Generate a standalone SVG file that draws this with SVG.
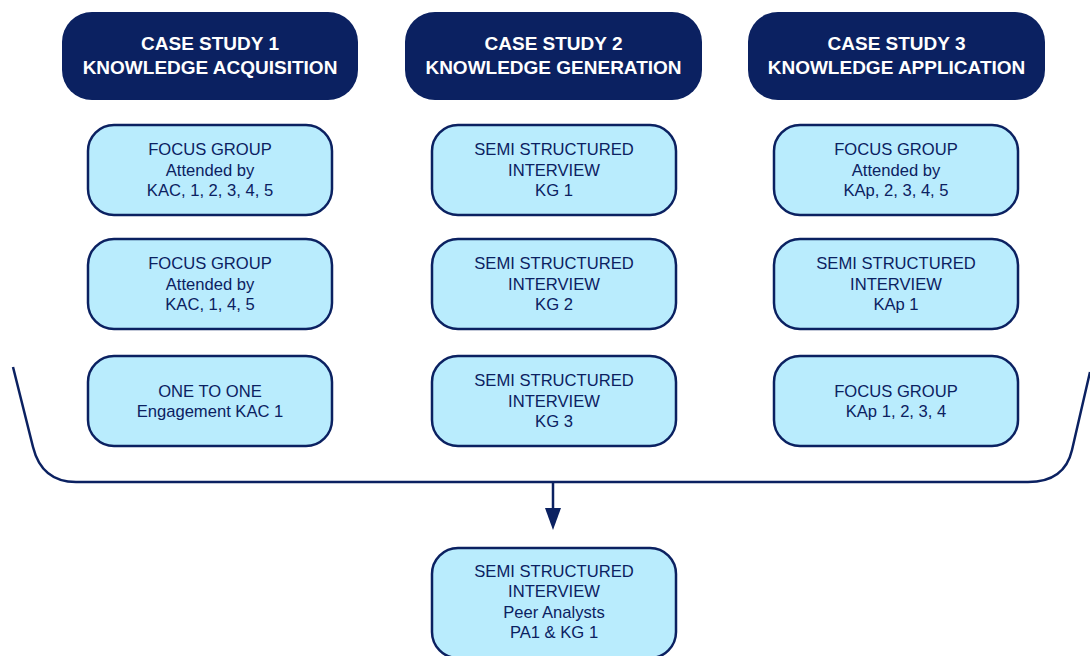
<svg xmlns="http://www.w3.org/2000/svg" width="1090" height="656" viewBox="0 0 1090 656">
  <style>
    .head rect { fill: #0b2161; }
    .head text { fill: #ffffff; font-family: "Liberation Sans", Arial, sans-serif; font-weight: bold; font-size: 19px; text-anchor: middle; }
    .step rect { fill: #b9ecfd; stroke: #0b2161; stroke-width: 2.5; }
    .step text { fill: #0b2161; font-family: "Liberation Sans", Arial, sans-serif; font-size: 16.6px; text-anchor: middle; }
    .wire { fill: none; stroke: #0b2161; stroke-width: 2.5; }
  </style>
  <rect width="1090" height="656" fill="#ffffff"/>

  <!-- column headers -->
  <g id="cs1" class="head">
    <rect x="62" y="12" width="296" height="88" rx="30"/>
    <text x="210" y="49.5">CASE STUDY 1</text>
    <text x="210" y="73.5">KNOWLEDGE ACQUISITION</text>
  </g>
  <g id="cs2" class="head">
    <rect x="405" y="12" width="297" height="88" rx="30"/>
    <text x="553.5" y="49.5">CASE STUDY 2</text>
    <text x="553.5" y="73.5">KNOWLEDGE GENERATION</text>
  </g>
  <g id="cs3" class="head">
    <rect x="748" y="12" width="297" height="88" rx="30"/>
    <text x="896.5" y="49.5">CASE STUDY 3</text>
    <text x="896.5" y="73.5">KNOWLEDGE APPLICATION</text>
  </g>

  <!-- case study 1 activities -->
  <g id="cs1-fg1" class="step">
    <rect x="88" y="125" width="244" height="90" rx="26"/>
    <text x="210" y="155.4">FOCUS GROUP</text>
    <text x="210" y="175.8">Attended by</text>
    <text x="210" y="196.2">KAC, 1, 2, 3, 4, 5</text>
  </g>
  <g id="cs1-fg2" class="step">
    <rect x="88" y="239" width="244" height="90" rx="26"/>
    <text x="210" y="269.4">FOCUS GROUP</text>
    <text x="210" y="289.8">Attended by</text>
    <text x="210" y="310.2">KAC, 1, 4, 5</text>
  </g>
  <g id="cs1-oto" class="step">
    <rect x="88" y="356" width="244" height="90" rx="26"/>
    <text x="210" y="396.6">ONE TO ONE</text>
    <text x="210" y="417">Engagement KAC 1</text>
  </g>

  <!-- case study 2 activities -->
  <g id="cs2-kg1" class="step">
    <rect x="432" y="125" width="244" height="90" rx="26"/>
    <text x="554" y="155.4">SEMI STRUCTURED</text>
    <text x="554" y="175.8">INTERVIEW</text>
    <text x="554" y="196.2">KG 1</text>
  </g>
  <g id="cs2-kg2" class="step">
    <rect x="432" y="239" width="244" height="90" rx="26"/>
    <text x="554" y="269.4">SEMI STRUCTURED</text>
    <text x="554" y="289.8">INTERVIEW</text>
    <text x="554" y="310.2">KG 2</text>
  </g>
  <g id="cs2-kg3" class="step">
    <rect x="432" y="356" width="244" height="90" rx="26"/>
    <text x="554" y="386.4">SEMI STRUCTURED</text>
    <text x="554" y="406.8">INTERVIEW</text>
    <text x="554" y="427.2">KG 3</text>
  </g>

  <!-- case study 3 activities -->
  <g id="cs3-fg1" class="step">
    <rect x="774" y="125" width="244" height="90" rx="26"/>
    <text x="896" y="155.4">FOCUS GROUP</text>
    <text x="896" y="175.8">Attended by</text>
    <text x="896" y="196.2">KAp, 2, 3, 4, 5</text>
  </g>
  <g id="cs3-kap1" class="step">
    <rect x="774" y="239" width="244" height="90" rx="26"/>
    <text x="896" y="269.4">SEMI STRUCTURED</text>
    <text x="896" y="289.8">INTERVIEW</text>
    <text x="896" y="310.2">KAp 1</text>
  </g>
  <g id="cs3-fg2" class="step">
    <rect x="774" y="356" width="244" height="90" rx="26"/>
    <text x="896" y="396.6">FOCUS GROUP</text>
    <text x="896" y="417">KAp 1, 2, 3, 4</text>
  </g>

  <!-- peer analysis -->
  <g id="peer" class="step">
    <rect x="432" y="548" width="244" height="110" rx="26"/>
    <text x="554" y="577">SEMI STRUCTURED</text>
    <text x="554" y="597.4">INTERVIEW</text>
    <text x="554" y="617.8">Peer Analysts</text>
    <text x="554" y="638.2">PA1 &amp; KG 1</text>
  </g>

  <!-- bracket gathering all three studies, and the arrow down -->
  <g id="connectors">
    <path class="wire" d="M13,367 L33,447 Q41.8,482 76,482 L1028,482 Q1064.6,482 1072,450 L1090,372"/>
    <line class="wire" x1="553" y1="482" x2="553" y2="512"/>
    <polygon points="545,508 561,508 553,530" fill="#0b2161"/>
  </g>
</svg>
